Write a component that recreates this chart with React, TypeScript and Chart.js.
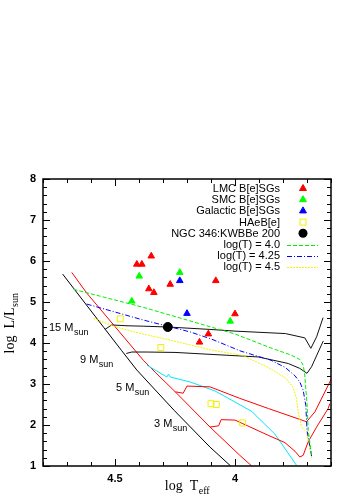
import React, { useEffect, useRef } from 'react';
import { Chart, registerables } from 'chart.js';

Chart.register(...registerables);

// ---------------- data (log Teff, log L/Lsun) ----------------
const lmcLogT = [4.349, 4.409, 4.388, 4.27, 4.08, 4.359, 4.338, 4.0, 4.111, 4.148];
const lmcLogL = [6.12, 5.92, 5.92, 5.43, 5.52, 5.32, 5.23, 4.71, 4.22, 4.02];

const smcLogT = [4.399, 4.23, 4.43, 4.02];
const smcLogL = [5.63, 5.72, 5.02, 4.53];

const galLogT = [4.23, 4.2];
const galLogL = [5.52, 4.72];

const haebeLogT = [4.478, 4.309, 4.1, 4.078, 3.968];
const haebeLogL = [4.59, 3.89, 2.52, 2.5, 2.05];

const ngcLogT = [4.28];
const ngcLogL = [4.39];

const zamsBlackT = [4.718, 4.547, 4.473, 4.409, 4.254, 4.104, 4.018];
const zamsBlackL = [5.68, 4.38, 3.82, 3.34, 2.36, 1.46, 1.0];

const zamsRedT = [4.68, 4.618, 4.382, 4.333, 4.249, 4.104, 3.98, 3.93];
const zamsRedL = [5.72, 5.22, 3.58, 3.29, 2.81, 1.95, 1.26, 1.0];

const track15T = [4.542, 4.514, 4.45, 4.38, 4.28, 4.1, 4.0, 3.79, 3.709, 3.684, 3.66, 3.633];
const track15L = [4.33, 4.44, 4.42, 4.41, 4.39, 4.33, 4.29, 4.23, 4.125, 3.87, 4.15, 4.62];

const track9T = [4.453, 4.43, 4.37, 4.25, 3.903, 3.778, 3.73, 3.7, 3.681, 3.64, 3.632];
const track9L = [3.745, 3.78, 3.78, 3.77, 3.66, 3.5, 3.38, 3.26, 3.42, 3.95, 4.05];

const track5T = [4.249, 4.216, 4.2, 4.104, 3.98, 3.86, 3.702, 3.667, 3.598];
const track5L = [2.81, 2.775, 2.95, 2.93, 2.65, 2.4, 2.08, 2.32, 3.13];

const track3T = [4.104, 4.068, 4.058, 4.0, 3.97, 3.862, 3.792, 3.75, 3.73, 3.716, 3.695, 3.66, 3.612, 3.605];
const track3L = [1.95, 1.98, 2.13, 2.12, 2.04, 1.75, 1.57, 1.36, 1.22, 1.26, 1.59, 1.95, 2.4, 2.52];

const cyanT = [4.367, 4.284, 4.277, 4.27, 4.187, 4.083, 4.0, 3.93, 3.834, 3.744];
const cyanL = [3.46, 3.17, 3.24, 3.17, 3.05, 2.83, 2.56, 2.33, 1.78, 1.02];

const iso40T = [4.673, 4.382, 4.0, 3.86, 3.764, 3.73, 3.716, 3.71, 3.7, 3.695, 3.68];
const iso40L = [5.31, 4.87, 4.22, 3.9, 3.7, 3.6, 3.46, 3.26, 2.52, 1.87, 1.22];

const iso425T = [4.618, 4.382, 4.187, 4.1, 3.975, 3.85, 3.79, 3.75, 3.73, 3.716, 3.705, 3.7, 3.68];
const iso425L = [4.95, 4.56, 4.27, 4.1, 3.8, 3.58, 3.4, 3.2, 3.05, 2.85, 2.48, 1.87, 1.22];

const iso45T = [4.59, 4.5, 4.42, 4.256, 4.1, 3.97, 3.86, 3.79, 3.758, 3.744, 3.737, 3.723, 3.702, 3.695, 3.68];
const iso45L = [4.6, 4.4, 4.27, 4.05, 3.83, 3.7, 3.4, 3.15, 2.92, 2.65, 2.32, 1.95, 1.83, 1.59, 1.18];

const legendLabels = [
  'LMC B[e]SGs',
  'SMC B[e]SGs',
  'Galactic B[e]SGs',
  'HAeB[e]',
  'NGC 346:KWBBe 200',
  'log(T) = 4.0',
  'log(T) = 4.25',
  'log(T) = 4.5',
];

const massLabels = ['15 M', '9 M', '5 M', '3 M'];
const xTickLabels = [4.5, 4];
const yMin = 1;
const yMax = 8;
const xMin = 3.6;
const xMax = 4.8;

// ---------------- styles ----------------
const SANS = '"Liberation Sans", Arial, Helvetica, sans-serif';
const SERIF = '"Liberation Serif", "Times New Roman", serif';
const RED = '#ff0000';
const GREEN = '#00ee00';
const BLUE = '#0000ff';
const YELLOW = '#f2f200';
const CYAN = '#00e5ff';

const pts = (t: number[], l: number[]) => t.map((v, i) => ({ x: v, y: l[i] }));

function drawMarker(ctx: CanvasRenderingContext2D, kind: string, color: string, x: number, y: number) {
  ctx.save();
  ctx.fillStyle = color;
  ctx.strokeStyle = color;
  ctx.setLineDash([]);
  ctx.lineWidth = 1;
  if (kind === 'tri') {
    const r = 4;
    ctx.beginPath();
    ctx.moveTo(x, y - r);
    ctx.lineTo(x + r * 0.866, y + r / 2);
    ctx.lineTo(x - r * 0.866, y + r / 2);
    ctx.closePath();
    ctx.fill();
    ctx.stroke();
  } else if (kind === 'sq') {
    ctx.strokeRect(x - 3, y - 3, 6, 6);
  } else if (kind === 'dot') {
    ctx.beginPath();
    ctx.arc(x, y, 4.5, 0, Math.PI * 2);
    ctx.fill();
  }
  ctx.restore();
}

const legendStyle = [
  { kind: 'tri', color: RED },
  { kind: 'tri', color: '#00ff00' },
  { kind: 'tri', color: BLUE },
  { kind: 'sq', color: YELLOW },
  { kind: 'dot', color: '#000' },
  { kind: 'line', color: GREEN, dash: [4, 2] },
  { kind: 'line', color: BLUE, dash: [5, 2, 1, 2] },
  { kind: 'line', color: YELLOW, dash: [2, 1] },
];

const massLabelPos = [
  { x: 49, y: 331 },
  { x: 80, y: 363 },
  { x: 116, y: 391 },
  { x: 154, y: 427 },
];

function textWithSub(ctx: CanvasRenderingContext2D, main: string, sub: string, x: number, y: number, mainFont: string, subFont: string, subDy: number, align: 'left' | 'center') {
  ctx.font = mainFont;
  const w1 = ctx.measureText(main).width;
  ctx.font = subFont;
  const w2 = ctx.measureText(sub).width;
  let x0 = x;
  if (align === 'center') x0 = x - (w1 + w2) / 2;
  ctx.textAlign = 'left';
  ctx.textBaseline = 'alphabetic';
  ctx.font = mainFont;
  ctx.fillText(main, x0, y);
  ctx.font = subFont;
  ctx.fillText(sub, x0 + w1 + 0.5, y + subDy);
}

const overlay = {
  id: 'overlay',
  afterDraw(chart: any) {
    const { ctx, chartArea: a } = chart;
    const xs = chart.scales.x;
    const ys = chart.scales.y;
    ctx.save();
    ctx.strokeStyle = '#000';
    ctx.lineWidth = 1;
    ctx.setLineDash([]);
    ctx.beginPath();
    xs.ticks.forEach((t: any) => {
      const px = Math.round(xs.getPixelForValue(t.value)) + 0.5;
      const major = xTickLabels.some((v) => Math.abs(v - t.value) < 1e-6);
      const len = major ? 7 : 4;
      ctx.moveTo(px, a.bottom);
      ctx.lineTo(px, a.bottom - len);
      ctx.moveTo(px, a.top);
      ctx.lineTo(px, a.top + len);
    });
    ys.ticks.forEach((t: any) => {
      const py = Math.round(ys.getPixelForValue(t.value)) + 0.5;
      const major = Math.abs(t.value - Math.round(t.value)) < 1e-6;
      const len = major ? 7 : 4;
      ctx.moveTo(a.left, py);
      ctx.lineTo(a.left + len, py);
      ctx.moveTo(a.right, py);
      ctx.lineTo(a.right - len, py);
    });
    ctx.stroke();
    ctx.lineWidth = 1.5;
    ctx.strokeRect(a.left, a.top, a.right - a.left, a.bottom - a.top);

    // legend
    ctx.fillStyle = '#000';
    legendLabels.forEach((lab, i) => {
      const cy = 188.5 + i * 11.2;
      ctx.font = `11px ${SANS}`;
      ctx.textAlign = 'right';
      ctx.textBaseline = 'middle';
      ctx.fillStyle = '#000';
      ctx.fillText(lab, 280, cy + 0.5);
      const st = legendStyle[i];
      if (st.kind === 'line') {
        ctx.save();
        ctx.strokeStyle = st.color;
        ctx.lineWidth = 1;
        ctx.setLineDash(st.dash as number[]);
        ctx.beginPath();
        ctx.moveTo(287, Math.round(cy) + 0.5);
        ctx.lineTo(318, Math.round(cy) + 0.5);
        ctx.stroke();
        ctx.restore();
      } else {
        drawMarker(ctx, st.kind, st.color, 303, cy);
      }
    });

    // mass labels
    ctx.fillStyle = '#000';
    massLabels.forEach((m, i) => {
      const p = massLabelPos[i];
      textWithSub(ctx, m, 'sun', p.x, p.y, `11px ${SANS}`, `9px ${SANS}`, 4, 'left');
    });

    // axis titles
    const cx = (a.left + a.right) / 2;
    textWithSub(ctx, 'log  T', 'eff', cx, 490, `14px ${SERIF}`, `10px ${SERIF}`, 4, 'center');
    ctx.save();
    ctx.translate(14, (a.top + a.bottom) / 2 + 1);
    ctx.rotate(-Math.PI / 2);
    textWithSub(ctx, 'log  L/L', 'sun', 0, 0, `14px ${SERIF}`, `10px ${SERIF}`, 4, 'center');
    ctx.restore();
    ctx.restore();
  },
};

export default function App() {
  const ref = useRef<HTMLCanvasElement | null>(null);
  useEffect(() => {
    if (!ref.current) return;
    const lineDs = (label: string, t: number[], l: number[], color: string, dash: number[] = [], width = 1) => ({
      label,
      data: pts(t, l),
      showLine: true,
      borderColor: color,
      backgroundColor: color,
      borderWidth: width,
      borderDash: dash,
      pointRadius: 0,
      tension: 0,
      fill: false,
    });
    const markerDs = (label: string, t: number[], l: number[], style: string, color: string, radius: number, filled = true) => ({
      label,
      data: pts(t, l),
      showLine: false,
      pointStyle: style,
      pointRadius: radius,
      pointBackgroundColor: filled ? color : 'rgba(0,0,0,0)',
      pointBorderColor: color,
      pointBorderWidth: 1,
    });
    const chart = new Chart(ref.current, {
      type: 'scatter',
      data: {
        datasets: [
          markerDs('NGC 346:KWBBe 200', ngcLogT, ngcLogL, 'circle', '#000', 4.5),
          markerDs('LMC B[e]SGs', lmcLogT, lmcLogL, 'triangle', RED, 3.8),
          markerDs('SMC B[e]SGs', smcLogT, smcLogL, 'triangle', '#00ff00', 3.8),
          markerDs('Galactic B[e]SGs', galLogT, galLogL, 'triangle', BLUE, 3.8),
          markerDs('HAeB[e]', haebeLogT, haebeLogL, 'rect', YELLOW, 4.2, false),
          lineDs('log(T) = 4.0', iso40T, iso40L, GREEN, [4, 2]),
          lineDs('log(T) = 4.25', iso425T, iso425L, BLUE, [5, 2, 1, 2]),
          lineDs('log(T) = 4.5', iso45T, iso45L, YELLOW, [2, 1]),
          lineDs('15 Msun', track15T, track15L, '#111'),
          lineDs('9 Msun', track9T, track9L, '#111'),
          lineDs('5 Msun', track5T, track5L, RED),
          lineDs('3 Msun', track3T, track3L, RED),
          lineDs('cyan', cyanT, cyanL, CYAN),
          lineDs('ZAMS black', zamsBlackT, zamsBlackL, '#000'),
          lineDs('ZAMS red', zamsRedT, zamsRedL, RED),
        ] as any,
      },
      options: {
        animation: false,
        responsive: false,
        devicePixelRatio: 1,
        layout: { padding: { top: 179, right: 19, left: 0, bottom: 0 } },
        plugins: { legend: { display: false }, tooltip: { enabled: false } },
        scales: {
          x: {
            type: 'linear',
            min: xMin,
            max: xMax,
            reverse: true,
            border: { display: false },
            grid: { display: false, drawTicks: false },
            afterFit: (s: any) => {
              s.height = 34;
            },
            ticks: {
              stepSize: 0.1,
              autoSkip: false,
              maxRotation: 0,
              padding: 6,
              color: '#000',
              font: { family: SANS, size: 11, weight: 'bold' },
              callback: (v: any) => {
                const n = Number(v);
                const hit = xTickLabels.find((t) => Math.abs(t - n) < 1e-6);
                return hit === undefined ? '' : String(hit);
              },
            },
          },
          y: {
            type: 'linear',
            min: yMin,
            max: yMax,
            border: { display: false },
            grid: { display: false, drawTicks: false },
            afterFit: (s: any) => {
              s.width = 43;
            },
            ticks: {
              stepSize: 0.2,
              autoSkip: false,
              padding: 7,
              color: '#000',
              font: { family: SANS, size: 11, weight: 'bold' },
              callback: (v: any) => {
                const n = Number(v);
                return Math.abs(n - Math.round(n)) < 1e-6 ? String(Math.round(n)) : '';
              },
            },
          },
        },
      } as any,
      plugins: [overlay],
    });
    return () => chart.destroy();
  }, []);
  return (
    <div style={{ position: 'fixed', left: 0, top: 0, width: 350, height: 500, background: '#fff' }}>
      <canvas ref={ref} width={350} height={500} style={{ display: 'block', width: 350, height: 500 }} />
    </div>
  );
}
